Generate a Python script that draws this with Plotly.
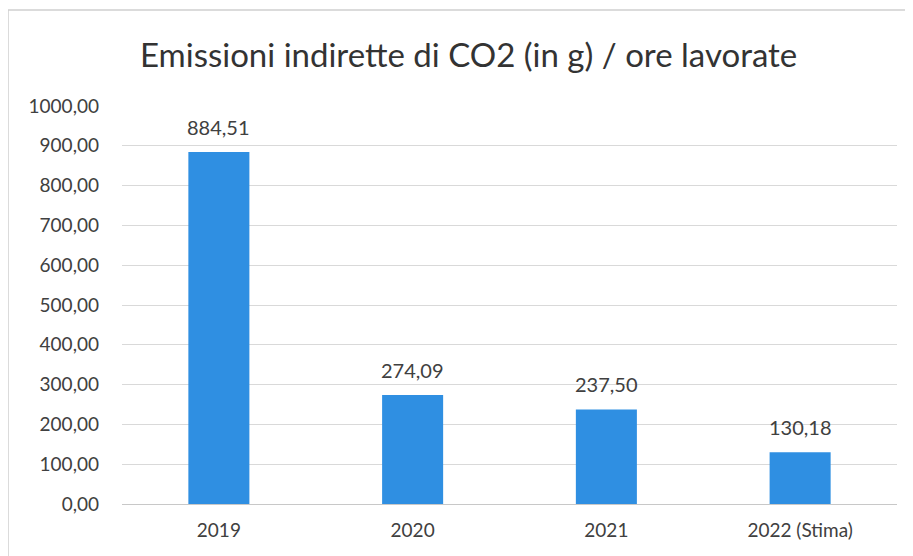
import plotly.graph_objects as go

categories = ["2019", "2020", "2021", "2022 (Stima)"]
values = [884.51, 274.09, 237.50, 130.18]
y_ticks = [0, 100, 200, 300, 400, 500, 600, 700, 800, 900, 1000]

font_family = "Lato, 'Open Sans', sans-serif"
text_color = "#404040"

# page body has an 8px margin, so the figure is sized to fill the rest
W, H = 905, 548
ML, MR, MT, MB = 114, 16, 98, 52
pw, ph = W - ML - MR, H - MT - MB

fig = go.Figure(
    go.Bar(
        x=categories,
        y=values,
        marker=dict(color="#2F8FE2", line=dict(width=0)),
        width=0.315,
        hoverinfo="x+y",
    )
)

# data labels: category axes take the category index for annotation positions
for i, v in enumerate(values):
    fig.add_annotation(
        x=i, y=v, xref="x", yref="y",
        text=f"{v:.2f}".replace(".", ","),
        showarrow=False,
        yanchor="middle",
        yshift=25,
        font=dict(size=20, color=text_color, family=font_family),
    )

fig.update_layout(
    width=W,
    height=H,
    separators=",.",
    paper_bgcolor="white",
    plot_bgcolor="white",
    margin=dict(l=ML, r=MR, t=MT, b=MB),
    title=dict(
        text="Emissioni indirette di CO2 (in g) / ore lavorate",
        x=0.509,
        xanchor="center",
        y=0.914,
        yanchor="middle",
        font=dict(size=33, color="#333333", family=font_family),
    ),
    showlegend=False,
    font=dict(family=font_family, color=text_color, size=19),
    shapes=[
        dict(
            type="rect", xref="paper", yref="paper",
            x0=-ML / pw, x1=(W - ML) / pw + 0.05,
            y0=-MB / ph - 0.05, y1=1 + (MT - 2) / ph,
            line=dict(color="#D0D0D0", width=1.5),
            fillcolor="rgba(0,0,0,0)",
            layer="below",
        )
    ],
)

fig.update_xaxes(
    type="category",
    categoryorder="array",
    categoryarray=categories,
    range=[-0.5, len(categories) - 0.5],
    showgrid=False,
    showline=True,
    linecolor="#C8C8C8",
    linewidth=1,
    ticks="",
    ticklabelstandoff=9,
    tickfont=dict(size=19, color=text_color),
)
fig.update_yaxes(
    range=[0, 1000],
    tickvals=y_ticks,
    tickformat=".2f",
    showgrid=True,
    gridcolor="#D9D9D9",
    gridwidth=1,
    zeroline=False,
    showline=False,
    ticks="",
    ticklabelstandoff=22,
    tickfont=dict(size=19, color=text_color),
)

fig.write_html("out.html")
